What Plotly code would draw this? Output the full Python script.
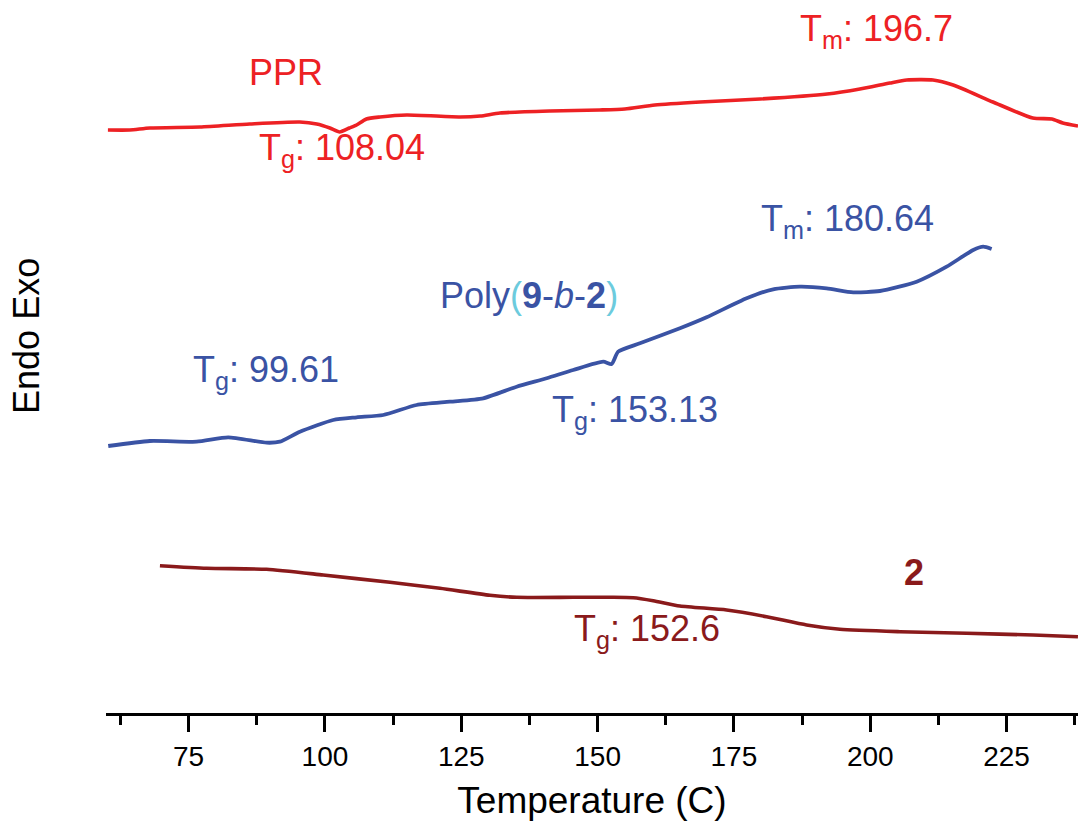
import plotly.graph_objects as go

# DSC traces (temperature in °C, heat-flow signal in arbitrary offset units)
ppr_temp = [60.2, 64.2, 67.9, 77.1, 86.2, 95.4, 98.5, 100.9, 102.7, 104.5, 105.8,
            107.6, 110.1, 115.0, 124.8, 128.5, 132.1, 141.3, 150.4, 155.0, 160.5,
            168.8, 179.8, 192.1, 198.1, 203.6, 206.7, 211.5, 215.2, 222.5, 229.8,
            233.3, 235.3, 238.1]
ppr_signal = [584, 584, 586, 587, 590, 592, 590, 586, 582, 586, 589,
              595, 597, 599, 597, 598, 601, 603, 604, 605, 609,
              612, 615, 620, 625, 631, 634, 634, 629, 612, 596,
              595, 591, 588]

block_temp = [60.26, 67.90, 76.47, 82.26, 89.30, 91.74, 95.41, 101.52, 105.81,
              110.69, 116.81, 122.92, 129.02, 135.15, 140.65, 145.53, 151.03,
              152.57, 153.78, 157.76, 165.10, 169.99, 177.33, 182.21, 187.10,
              192.00, 196.88, 201.78, 208.51, 214.01, 218.89, 220.72, 222.26]
block_signal = [268, 273, 272.3, 276.7, 271.3, 272.3, 282.3, 294, 296.7,
                299, 309, 312.3, 315.7, 327.3, 335.7, 344, 352.3,
                350, 362.3, 370.7, 385.7, 396.7, 415.7, 424.7, 427.3,
                425.7, 421.7, 423, 432.3, 447.3, 464, 467.3, 465]

mono_temp = [69.74, 78.30, 89.30, 99.68, 111.92, 121.08, 130.25, 135.15, 145.53,
             152.26, 156.53, 160.20, 165.10, 173.66, 180.99, 188.33, 194.44,
             205.44, 217.67, 229.89, 238.09]
mono_signal = [148.3, 145.7, 144.7, 139, 131.7, 125.7, 118.7, 116.7, 116.7,
               116.7, 116.3, 113.3, 108, 104, 97.3, 89, 84.7,
               82.3, 80.7, 79, 77.3]

RED = "#ED2124"
BLUE = "#3A53A4"
BROWN = "#8A1A1B"
CYAN = "#6CCBDD"
FONT = "Liberation Sans, Arial, sans-serif"

fig = go.Figure()
for tx, sy, col, w in [(ppr_temp, ppr_signal, RED, 3.6),
                       (block_temp, block_signal, BLUE, 3.8),
                       (mono_temp, mono_signal, BROWN, 3.6)]:
    fig.add_trace(go.Scatter(x=tx, y=sy, mode="lines",
                             line=dict(color=col, width=w, shape="spline", smoothing=0.6),
                             showlegend=False, hoverinfo="skip"))

labels = [
    ("PPR", 85.69, 642, RED),
    ("T<sub>g</sub>: 108.04", 87.52, 564.5, RED),
    ("T<sub>m</sub>: 196.7", 186.84, 683, RED),
    ("Poly<span style='color:%s'>(</span><b>9</b>-<i>b</i>-<b>2</b>"
     "<span style='color:%s'>)</span>" % (CYAN, CYAN), 120.72, 419, BLUE),
    ("T<sub>m</sub>: 180.64", 179.51, 493, BLUE),
    ("T<sub>g</sub>: 99.61", 75.42, 342, BLUE),
    ("T<sub>g</sub>: 153.13", 141.26, 302, BLUE),
    ("T<sub>g</sub>: 152.6", 145.29, 83, BROWN),
    ("<b>2</b>", 205.82, 142, BROWN),
]
for text, x, y, col in labels:
    fig.add_annotation(x=x, y=y, text=text, showarrow=False, xanchor="left",
                       yanchor="middle", font=dict(family=FONT, size=36, color=col))

fig.add_annotation(text="Endo Exo", xref="paper", yref="paper", x=-0.0813, y=0.5288,
                   textangle=-90, showarrow=False, xanchor="center", yanchor="middle",
                   font=dict(family=FONT, size=36, color="black"))

fig.update_layout(
    width=1078, height=830,
    margin=dict(l=106, r=0, t=0, b=117),
    paper_bgcolor="white", plot_bgcolor="white",
    font=dict(family=FONT, color="black"),
    xaxis=dict(
        range=[59.85, 238.1], dtick=25, tick0=0,
        showline=True, linewidth=3, linecolor="black",
        ticks="outside", ticklen=16, tickwidth=3, tickcolor="black",
        minor=dict(dtick=12.5, ticks="outside", ticklen=9, tickwidth=3,
                   tickcolor="black", showgrid=False),
        showgrid=False, zeroline=False,
        tickfont=dict(family=FONT, size=28, color="black"),
        ticklabelstandoff=0,
        title=dict(text="Temperature (C)", standoff=17,
                   font=dict(family=FONT, size=37, color="black")),
    ),
    yaxis=dict(range=[1, 714], visible=False),
)

fig.write_html("out.html")
